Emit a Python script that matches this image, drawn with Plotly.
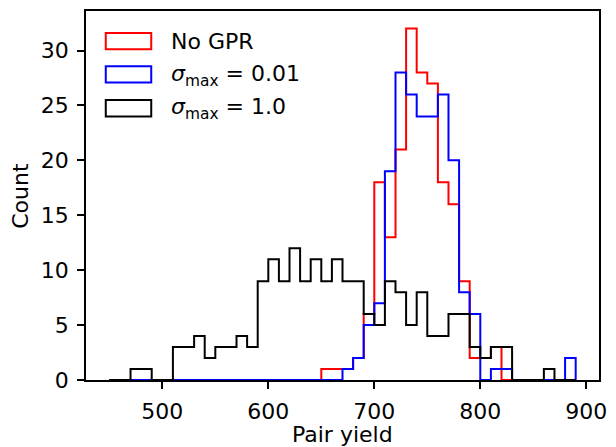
import plotly.graph_objects as go

# ---- data (histogram counts per 10-unit bin, bins start at 450) ----
bin_edges = list(range(450, 900, 10))  # 450 ... 890
no_gpr = [0] * 20 + [1, 1, 1, 2, 6, 18, 13, 21, 32, 28, 27, 18, 16, 9, 2, 2, 3] + [0] * 7
sigma_001 = [0] * 22 + [1, 2, 5, 7, 19, 28, 26, 24, 24, 26, 20, 8, 6, 0, 1, 1, 0, 0, 0, 0, 0, 2]
sigma_1 = [0, 0, 1, 1, 0, 0, 3, 3, 4, 2, 3, 3, 4, 3, 9, 11, 9, 12, 9, 11, 9, 11, 9, 9,
           6, 5, 9, 8, 5, 8, 4, 4, 6, 6, 3, 2, 3, 3, 0, 0, 0, 1, 0, 0]
series_labels = ["No GPR", "<i>σ</i><sub>max</sub> = 0.01", "<i>σ</i><sub>max</sub> = 1.0"]
series_colors = ["#ff0000", "#0000ff", "#000000"]
x_ticks = [500, 600, 700, 800, 900]
y_ticks = [0, 5, 10, 15, 20, 25, 30]
x_title = "Pair yield"
y_title = "Count"

W, H = 616, 447
L, R, T, B = 86, 11, 9, 67
FONT = "DejaVu Sans"
FS = 22


def step_xy(edges, counts):
    xs, ys = [edges[0]], [0]
    for i, c in enumerate(counts):
        xs += [edges[i], edges[i + 1]]
        ys += [c, c]
    xs.append(edges[-1])
    ys.append(0)
    return xs, ys


fig = go.Figure()
for counts, name, color in zip([no_gpr, sigma_001, sigma_1], series_labels, series_colors):
    xs, ys = step_xy(bin_edges, counts)
    fig.add_trace(go.Scatter(x=xs, y=ys, mode="lines", name=name,
                             line=dict(color=color, width=2), showlegend=False,
                             hoverinfo="skip"))

pw, ph = W - L - R, H - T - B


def px_x(p):
    return (p - L) / pw


def px_y(p):
    return (H - B - p) / ph


# manual legend (rectangle handles like matplotlib step patches)
rect_tops = [31, 64.5, 98.5]
text_mids = [39.7, 73.4, 107.4]
for name, color, rt, tm in zip(series_labels, series_colors, rect_tops, text_mids):
    fig.add_shape(type="rect", xref="paper", yref="paper",
                  x0=px_x(106), x1=px_x(152), y0=px_y(rt + 16.5), y1=px_y(rt),
                  line=dict(color=color, width=2), fillcolor="rgba(0,0,0,0)")
    fig.add_annotation(xref="paper", yref="paper", x=px_x(170), y=px_y(tm),
                       text=name, showarrow=False, xanchor="left", yanchor="middle",
                       font=dict(family=FONT, size=FS, color="black"))

# axis titles
fig.add_annotation(xref="paper", yref="paper", x=0.5, y=px_y(434.4),
                   text=x_title, showarrow=False, xanchor="center", yanchor="middle",
                   font=dict(family=FONT, size=FS, color="black"))
fig.add_annotation(xref="paper", yref="paper", x=px_x(19.5), y=0.5,
                   text=y_title, showarrow=False, xanchor="center", yanchor="middle",
                   textangle=-90, font=dict(family=FONT, size=FS, color="black"))

axis_common = dict(showline=True, linecolor="black", linewidth=1.7, mirror=True,
                   ticks="outside", ticklen=7, tickwidth=1.6, tickcolor="black",
                   showgrid=False, zeroline=False, ticklabelstandoff=4,
                   tickfont=dict(family=FONT, size=FS, color="black"))

fig.update_layout(
    width=W, height=H,
    margin=dict(l=L, r=R, t=T, b=B, pad=0),
    plot_bgcolor="white", paper_bgcolor="white",
    font=dict(family=FONT, size=FS, color="black"),
    xaxis=dict(range=[428, 912], tickvals=x_ticks, layer="below traces", **axis_common),
    yaxis=dict(range=[0, 33.6], tickvals=y_ticks, layer="below traces", **axis_common),
)

fig.write_html("out.html", config={"displayModeBar": False},
               post_script="document.body.style.margin='0';document.body.style.overflow='hidden';")
